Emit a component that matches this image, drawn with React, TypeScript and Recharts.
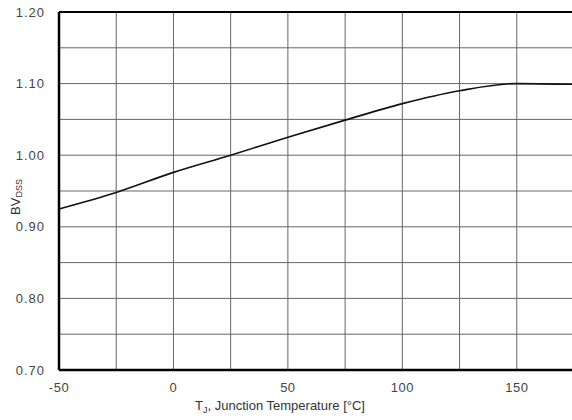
import React from 'react';
import { LineChart, Line, XAxis, YAxis, CartesianGrid, ReferenceLine } from 'recharts';

const temperatures = [-50, -25, 0, 25, 50, 75, 100, 125, 150, 175];
const bvdss = [0.925, 0.948, 0.976, 1.0, 1.025, 1.049, 1.072, 1.09, 1.1, 1.099];

const xTicks = [-50, -25, 0, 25, 50, 75, 100, 125, 150, 175];
const yTicks = [0.7, 0.75, 0.8, 0.85, 0.9, 0.95, 1.0, 1.05, 1.1, 1.15, 1.2];

const data = temperatures.map((t, i) => ({ t, v: bvdss[i] }));

const FONT = '"Liberation Sans", Arial, sans-serif';

const YLabel = (props: any) => {
  const vb = props.viewBox || {};
  const cx = 15;
  const cy = (vb.y ?? 12) + (vb.height ?? 358) / 2 + 6;
  return (
    <text
      x={cx}
      y={cy}
      transform={`rotate(-90 ${cx} ${cy})`}
      textAnchor="middle"
      dominantBaseline="central"
      fill="#333"
      fontFamily={FONT}
      fontSize={13}
    >
      BV<tspan fontSize={9} dy={4}>DSS</tspan>
    </text>
  );
};

const XLabel = () => (
  <text x={280} y={410} textAnchor="middle" fill="#333" fontFamily={FONT} fontSize={13}>
    T<tspan fontSize={9} dy={3}>J</tspan>
    <tspan dy={-3}>, Junction Temperature [°C]</tspan>
  </text>
);

export default function App() {
  return (
    <div style={{ position: 'fixed', left: 0, top: 0, width: 572, height: 420, overflow: 'hidden', background: '#fff' }}>
      <LineChart width={580} height={420} data={data} margin={{ top: 12, right: 6, bottom: 0, left: 0 }}>
        <CartesianGrid stroke="#666" strokeWidth={1} />
        <XAxis
          dataKey="t"
          type="number"
          domain={[-50, 175]}
          ticks={xTicks}
          tickFormatter={(v: number) => (v % 50 === 0 ? String(v) : '')}
          tickLine={false}
          axisLine={{ stroke: '#000', strokeWidth: 2.5 }}
          tick={{ fill: '#444', fontSize: 13, fontFamily: FONT, letterSpacing: 0.5 }}
          tickMargin={7}
          height={50}
          interval={0}
          label={<XLabel />}
        />
        <YAxis
          type="number"
          domain={[0.7, 1.2]}
          ticks={yTicks}
          tickFormatter={(v: number) => (Math.round(v * 100) % 10 === 0 ? v.toFixed(2) : '')}
          tickLine={false}
          axisLine={{ stroke: '#000', strokeWidth: 2.5 }}
          tick={{ fill: '#444', fontSize: 13, fontFamily: FONT, letterSpacing: 1 }}
          tickMargin={8}
          width={59}
          interval={0}
          allowDataOverflow
          label={<YLabel />}
        />
        <ReferenceLine y={1.2} stroke="#000" strokeWidth={2} />
        <Line
          type="monotone"
          dataKey="v"
          stroke="#111"
          strokeWidth={1.6}
          dot={false}
          isAnimationActive={false}
        />
      </LineChart>
    </div>
  );
}
